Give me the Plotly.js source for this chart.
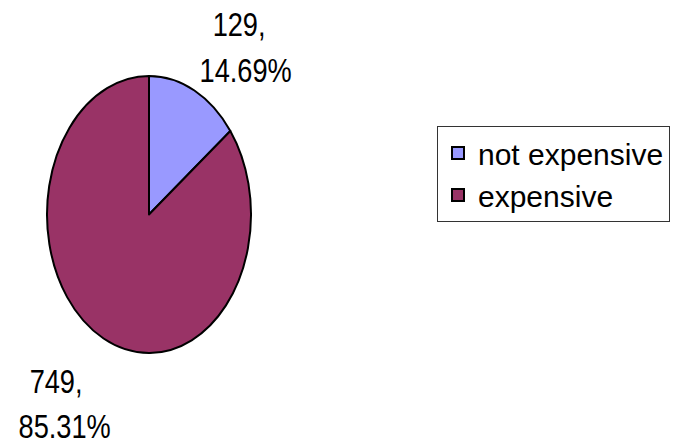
<!DOCTYPE html>
<html>
<head>
<meta charset="utf-8">
<script src="https://cdn.plot.ly/plotly-3.0.1.min.js"></script>
<style>
html,body{margin:0;padding:0;background:#fff;}
#chart{width:683px;height:447px;}
/* condensed look of the reference labels */
#chart .annotation-text{transform-box:fill-box;transform-origin:center;transform:scaleX(0.8);}
</style>
</head>
<body>
<div id="chart"></div>
<script>
// ---- data ----
const categories = ["not expensive", "expensive"];
const counts = [129, 749];
const sliceColors = ["#9999FF", "#993366"];

const FONT = "'Liberation Sans', Arial, sans-serif";
const W = 683, H = 447;
const px = v => v / W;
const py = v => 1 - v / H;

const total = counts.reduce((a, b) => a + b, 0);
const pcts = counts.map(v => (v / total * 100).toFixed(2) + "%");

// label line positions (pixel centres) for each slice
const labelPos = [
  [[239, 24], [245, 70]],
  [[56, 381], [64, 426]]
];

const annotations = [];
counts.forEach((v, i) => {
  const lines = [v + ",", pcts[i]];
  lines.forEach((t, j) => {
    annotations.push({
      text: t, showarrow: false,
      xref: "paper", yref: "paper",
      x: px(labelPos[i][j][0]), y: py(labelPos[i][j][1]),
      xanchor: "center", yanchor: "middle",
      font: {family: FONT, size: 34, color: "#000"}
    });
  });
});

const cx = 149, cy = 214.5, ry = 138.5, rx = 102;

const data = [{
  type: "pie",
  labels: categories,
  values: counts,
  sort: false,
  direction: "clockwise",
  rotation: 0,
  textinfo: "none",
  hoverinfo: "label+value+percent",
  marker: {colors: sliceColors, line: {color: "#000", width: 2}},
  domain: {x: [px(cx - ry), px(cx + ry)], y: [py(cy + ry), py(cy - ry)]}
}];

const layout = {
  width: W, height: H,
  margin: {l: 0, r: 0, t: 0, b: 0},
  paper_bgcolor: "#fff",
  showlegend: true,
  legend: {
    x: px(437), y: py(126), xanchor: "left", yanchor: "top",
    bordercolor: "#333", borderwidth: 1, bgcolor: "#fff",
    font: {family: FONT, size: 30, color: "#000"},
    traceorder: "normal"
  },
  annotations: annotations
};

Plotly.newPlot("chart", data, layout, {displayModeBar: false, staticPlot: true}).then(gd => {
  // stretch the circular pie into the ellipse of the reference
  const s = rx / ry;
  const layer = gd.querySelector(".pielayer");
  if (layer) {
    layer.querySelectorAll("g.trace").forEach(g => {
      g.setAttribute("transform", `translate(${cx},0) scale(${s},1) translate(${-cx},0)`);
    });
    layer.querySelectorAll("path").forEach(p => p.style.vectorEffect = "non-scaling-stroke");
  }
});
</script>
</body>
</html>
